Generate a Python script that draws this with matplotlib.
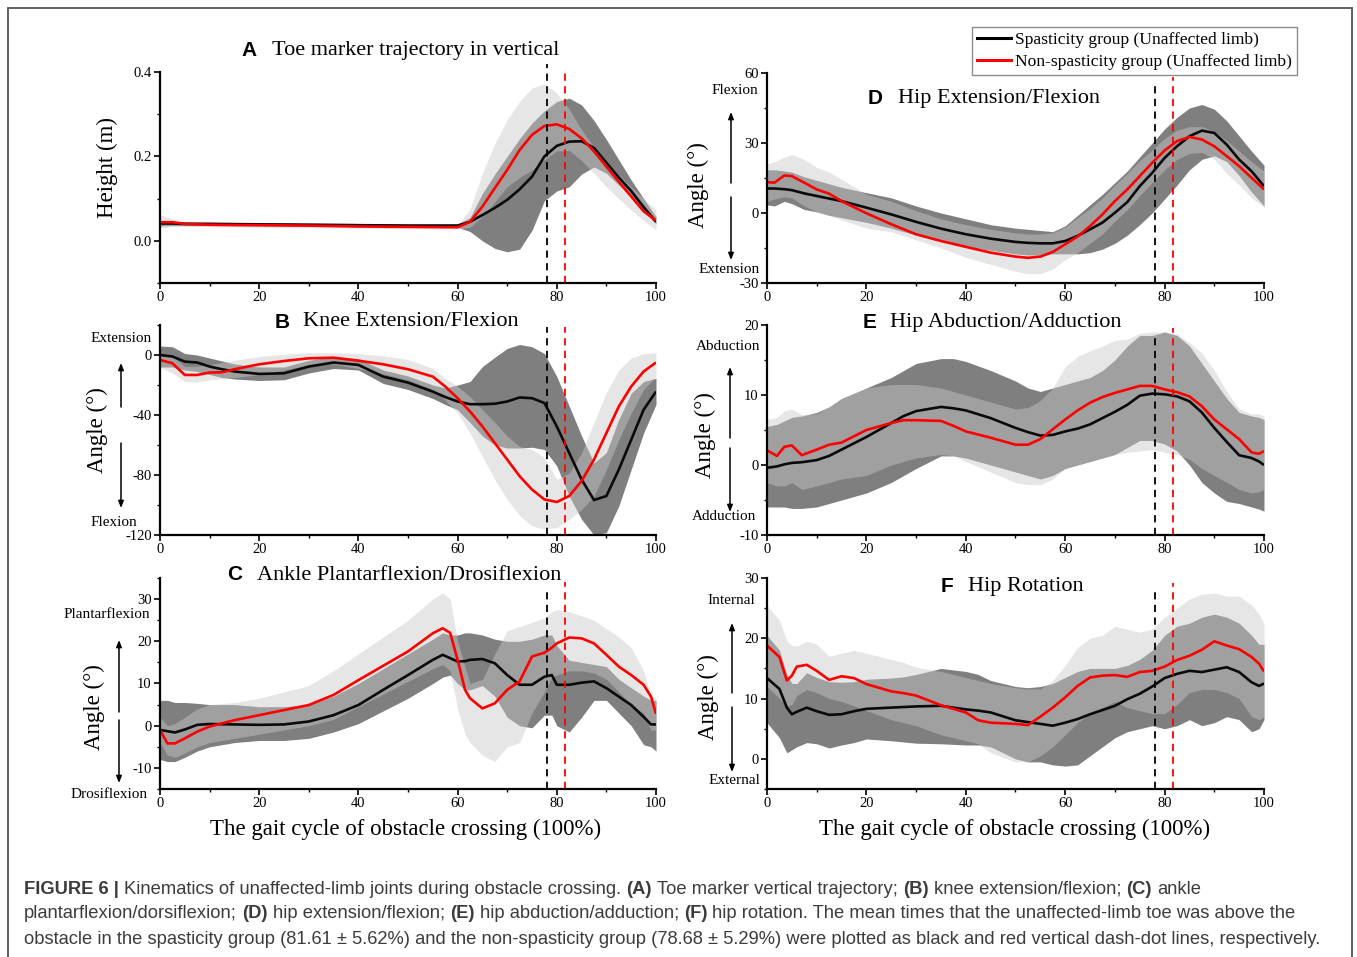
import numpy as np
import matplotlib
matplotlib.use('Agg')
import matplotlib.pyplot as plt
from matplotlib.lines import Line2D
from matplotlib.patches import Rectangle
from matplotlib.ticker import MultipleLocator, FormatStrFormatter

plt.rcParams['font.family'] = ['Liberation Serif', 'DejaVu Serif']
plt.rcParams['axes.unicode_minus'] = False

W, H = 1357, 957

# ---------------- data ----------------
# A  toe marker height (m)
a_pct = [0, 2.5, 5, 10, 20, 30, 40, 50, 60, 62.5, 65, 67.5, 70, 72.5, 75, 77.5,
         80, 82.5, 85, 87.5, 90, 92.5, 95, 97.5, 100]
a_sp_mean = [0.041, 0.041, 0.040, 0.040, 0.039, 0.038, 0.037, 0.036, 0.036, 0.045, 0.061, 0.078,
             0.097, 0.122, 0.152, 0.200, 0.225, 0.235, 0.236, 0.220, 0.185, 0.150, 0.118, 0.080, 0.045]
a_sp_lo = [0.035, 0.036, 0.036, 0.036, 0.035, 0.034, 0.033, 0.032, 0.032, 0.022, 0.000, -0.018,
           -0.026, -0.020, 0.025, 0.095, 0.118, 0.128, 0.158, 0.175, 0.160, 0.132, 0.105, 0.070, 0.040]
a_sp_hi = [0.047, 0.046, 0.045, 0.044, 0.043, 0.042, 0.041, 0.040, 0.040, 0.055, 0.112, 0.158,
           0.200, 0.242, 0.279, 0.308, 0.330, 0.338, 0.322, 0.285, 0.240, 0.192, 0.144, 0.100, 0.057]
a_ns_mean = [0.044, 0.044, 0.040, 0.038, 0.037, 0.036, 0.034, 0.033, 0.032, 0.045, 0.081, 0.125,
             0.168, 0.215, 0.251, 0.272, 0.276, 0.265, 0.243, 0.212, 0.176, 0.140, 0.105, 0.070, 0.048]
a_ns_lo = [0.030, 0.034, 0.034, 0.033, 0.032, 0.031, 0.030, 0.029, 0.028, 0.032, 0.057, 0.092,
           0.128, 0.150, 0.168, 0.192, 0.213, 0.214, 0.190, 0.160, 0.128, 0.100, 0.073, 0.048, 0.025]
a_ns_hi = [0.062, 0.052, 0.045, 0.043, 0.042, 0.041, 0.040, 0.038, 0.037, 0.075, 0.160, 0.230,
           0.287, 0.330, 0.362, 0.372, 0.350, 0.312, 0.263, 0.222, 0.184, 0.156, 0.128, 0.100, 0.073]

# B  knee extension/flexion (deg)
b_pct = [0, 2.5, 5, 7.5, 10, 12.5, 15, 20, 25, 30, 35, 40, 45, 50, 55, 57.5, 60, 62.5, 65,
         67.5, 70, 72.5, 75, 77.5, 80, 82.5, 85, 87.5, 90, 92.5, 95, 97.5, 100]
b_sp_mean = [0, -1, -4.4, -5, -7.7, -9.5, -11, -12.6, -12.2, -7.7, -5, -6.6, -14.4, -18.4, -24.4,
             -28, -31, -32.8, -32.8, -32.5, -31, -28.3, -28.8, -32, -47.6, -65.3, -83, -96.7, -94,
             -76.4, -56.5, -36.5, -24.4]
b_sp_lo = [-8, -8, -10, -11, -13, -15, -16, -17, -16.5, -12, -9, -10, -19, -23, -29, -33, -36.5,
           -45, -54, -60, -62, -62, -61.5, -63, -74, -94, -109.6, -120, -118.4, -100.7, -76.4, -52, -33]
b_sp_hi = [6, 5.5, 1, 0, -2, -4, -6, -8, -8, -3.5, -1, -2.5, -10, -14, -20, -22, -20, -17.7, -7.7,
           -1.5, 4.4, 7, 5.5, 1, -14.4, -34, -54, -72, -65, -43, -25.5, -17.7, -15.5]
b_ns_mean = [-3.3, -5.5, -13.3, -13.3, -11.7, -11.5, -9.5, -6.2, -4, -2.2, -1.8, -3.8, -6.2, -9.5,
             -14.4, -21, -28.8, -37.6, -47.6, -58.7, -69.7, -80.8, -89.7, -96.3, -98, -94, -84,
             -69.7, -52, -34.3, -21, -11, -5]
b_ns_lo = [-8, -12, -17.7, -18, -16.6, -16, -15, -13, -10, -6.6, -6, -9, -12.5, -16.6, -23, -30,
           -38.7, -52, -67.5, -83, -96.3, -107, -114, -116, -115, -109.6, -103, -94, -76.4, -56.5,
           -38.7, -23, -14.4]
b_ns_hi = [1, -1, -7.7, -7.5, -6.6, -5, -3.5, -1, 0.5, 1.5, 1.5, 1, -0.5, -3, -9, -15.5, -21,
           -27.7, -36.5, -45, -54, -61, -63, -68.6, -83, -78.6, -65.3, -45, -25, -10, -2, 1, 1.5]

# C  ankle plantarflexion/dorsiflexion (deg)
c_pct = [0, 1.5, 3, 5, 7.5, 10, 15, 20, 25, 30, 35, 40, 45, 50, 55, 57, 58.5, 60, 61.5, 62.5,
         65, 67.5, 70, 72.5, 75, 77.5, 79, 80, 82.5, 85, 87.5, 90, 92.5, 95, 97.5, 99, 100]
c_sp_mean = [-1, -1.3, -1.6, -0.9, 0.2, 0.4, 0.3, 0.2, 0.3, 1, 2.5, 4.9, 8.5, 12, 15.6, 16.8, 16,
             15.2, 15.3, 15.6, 15.8, 14.8, 12, 9.7, 9.7, 11.6, 12, 9.7, 9.7, 10.2, 10.5, 8.9, 6.9,
             4.9, 2.1, 0.3, 0.3]
c_sp_lo = [-8, -8.5, -8.5, -7.5, -6, -5, -4, -3.5, -3.5, -3, -1.5, 0.5, 3.5, 6.5, 10, 11.5, 12,
           10, 8.5, 8.5, 9.5, 7, 2, 0, -0.5, 2.5, 2.5, 0, -1.5, 2, 6, 6, 3, 0, -4.5, -5, -6]
c_sp_hi = [6, 6, 5.5, 5.5, 5.3, 5, 5, 4.5, 4.5, 5, 7, 10, 13.5, 17, 20.5, 22, 21.5, 21.5, 22, 22,
           21.5, 20.5, 20, 20, 20.5, 21.5, 21.5, 19, 15.5, 15, 14.5, 14, 11, 9, 7, 6, 6]
c_ns_mean = [-1, -4.2, -4.2, -3, -1.4, -0.2, 1.3, 2.5, 3.7, 4.9, 7.3, 10.8, 14.2, 17.6, 21.9,
             23.1, 22, 15.6, 8.5, 6.5, 4.1, 5.3, 8.5, 10.5, 16.4, 17.3, 18.5, 19.5, 20.9, 20.7,
             19.5, 16.8, 14, 12, 9.7, 6.9, 2.8]
c_ns_lo = [-4, -7, -7.5, -6.5, -5, -4, -3, -2, -1, 0, 1.5, 4.5, 7.5, 10.5, 13.5, 14.5, 13, 4, -2,
           -4, -7, -8.5, -5, -4, 3, 8, 11.5, 12, 13, 13, 12.5, 11, 8, 5, 3, -1, -1]
c_ns_hi = [2, 0, 0.5, 2, 4, 5, 5.5, 6.5, 8, 9.5, 13, 17, 21, 25, 30, 31.5, 30, 20, 14, 10, 11,
           17, 22.5, 23.5, 24.5, 25.5, 27, 27.5, 27, 26, 25, 23, 21, 18.5, 13, 7, 6.5]

# D  hip extension/flexion (deg)
d_pct = [0, 1.5, 3.5, 5, 7.5, 10, 12.5, 15, 20, 25, 30, 35, 40, 45, 50, 52.5, 55, 57.5, 60,
         62.5, 65, 67.5, 70, 72.5, 75, 77.5, 80, 82.5, 85, 87.5, 90, 92.5, 95, 97.5, 100]
d_sp_mean = [10.5, 10.5, 10.2, 9.8, 8.4, 7.3, 6.2, 5.1, 2.3, -0.6, -3.8, -6.7, -9.1, -11, -12.4,
             -12.8, -13, -13, -12, -9.8, -7, -4.1, 0.1, 4.7, 11.5, 17.2, 23.6, 28.6, 32.9, 35.3,
             34.3, 29.3, 22.9, 17.9, 11.5]
d_sp_lo = [3.5, 3, 5, 4, 1.5, 0.5, -1, -2, -4, -6.5, -9.5, -12, -14.5, -16, -17.5, -18, -18,
           -17.5, -17.5, -17.5, -17, -15.5, -13, -9.5, -5, 0, 6, 12, 18.5, 23, 24.5, 22, 16, 9, 3]
d_sp_hi = [18.5, 18.5, 18, 17.5, 15.5, 14, 12.5, 11, 8.7, 6.5, 3, 0, -2.5, -5, -6.5, -7, -7.5,
           -8, -5.5, -1, 3.5, 8, 13, 18, 24, 30, 36, 41, 45, 46.5, 44.5, 39.5, 33, 26.5, 20.5]
d_ns_mean = [13.2, 13, 16.1, 15.8, 13, 10.1, 8.3, 5.1, -0.1, -4.8, -9.1, -12, -14.5, -17, -18.7,
             -19.2, -18.7, -16.7, -13.4, -10.1, -5.6, -0.6, 5.1, 10.1, 15.8, 21.5, 26.8, 30.8,
             32.6, 31.5, 28.6, 24.4, 20.1, 15.1, 10.1]
d_ns_lo = [5, 6, 7, 6.5, 3, 0.5, -1, -3, -6.5, -8, -11.5, -15, -19, -22, -25, -26, -26, -24, -20,
           -17, -13, -9, -3.5, 1.5, 7.5, 13, 18.5, 23, 25.5, 26, 23, 17, 12, 6.5, 2.5]
d_ns_hi = [21, 22, 24, 25, 23, 19.5, 17.5, 14.5, 8, 5, 1, -2.5, -5, -7, -8.5, -9, -9, -8.5, -6,
           -2, 2, 6.5, 12, 17, 22.5, 27, 32, 35.5, 37, 37, 35, 31, 26.5, 22, 18]

# E  hip abduction/adduction (deg)
e_pct = [0, 2, 3.5, 5, 7, 10, 12.5, 15, 20, 25, 27.5, 30, 35, 37.5, 40, 45, 50, 52.5, 55, 57.5,
         60, 62.5, 65, 67.5, 70, 72.5, 75, 77.5, 80, 82.5, 85, 87.5, 90, 92.5, 95, 97.5, 99, 100]
e_sp_mean = [-0.4, -0.2, 0.1, 0.3, 0.4, 0.7, 1.3, 2.2, 4, 6, 7, 7.7, 8.3, 8.1, 7.8, 6.7, 5.3, 4.7,
             4.2, 4.3, 4.8, 5.2, 5.8, 6.7, 7.6, 8.6, 9.9, 10.2, 10.1, 9.8, 9.1, 7.5, 5.3, 3.3,
             1.4, 1, 0.5, 0]
e_sp_lo = [-6, -6, -6, -6.2, -6.2, -6, -5.5, -5, -4, -2.5, -1.5, -0.5, 1.3, 1.3, 1, 0, -1, -1.5,
           -2, -1.5, -0.5, 0, 0.5, 1, 1.5, 2.5, 3.5, 3.5, 3, 2, 0, -2.5, -4, -5.2, -5.5, -6, -6.3, -6.6]
e_sp_hi = [5.5, 5.8, 6.3, 6.8, 7, 7.5, 8.3, 9.5, 11, 12.5, 13.5, 14.5, 15.2, 15.2, 14.8, 13.5, 12,
           11, 10.5, 11, 11.5, 12, 12.5, 13.5, 15, 17, 18.5, 18.5, 19, 18.5, 17, 14.5, 12, 9.5,
           7.5, 7, 6.8, 6.5]
e_ns_mean = [2.1, 1.3, 2.6, 2.8, 1.4, 2.2, 2.9, 3.2, 5, 6, 6.4, 6.4, 6.3, 5.6, 4.8, 3.9, 2.9, 2.9,
             3.7, 5.1, 6.5, 7.8, 8.9, 9.7, 10.3, 10.8, 11.3, 11.3, 10.8, 10.4, 9.8, 8.4, 6.5, 5.1,
             3.7, 1.8, 1.6, 2]
e_ns_lo = [-2.5, -3, -3, -2.5, -3.5, -3, -2.5, -2, -1.5, 0, 0.5, 1, 1.5, 1.3, 0.5, -1, -2.5, -2.8,
           -2.8, -2, -0.5, 0, 0.5, 1, 1.5, 1.8, 2, 2.2, 1.8, 1.5, 0.8, -0.5, -1.5, -2.5, -3.5, -4,
           -3.8, -3.5]
e_ns_hi = [6.5, 6.8, 7.7, 8, 7.2, 7.3, 8.3, 9.5, 11, 11.5, 11.5, 11.5, 11, 10.5, 10, 9, 8, 8.2,
           9.2, 11, 14, 15.5, 16.3, 17, 17.8, 18, 18.8, 19, 19, 18.7, 17.5, 16, 13.5, 10.5, 8, 7.3,
           7.3, 7]

# F  hip rotation (deg)
f_pct = [0, 2.5, 4, 5, 6, 8, 10, 12.5, 15, 17.5, 20, 25, 27.5, 30, 35, 40, 42.5, 45, 50, 52.5,
         55, 57.5, 60, 62.5, 65, 67.5, 70, 72.5, 75, 77.5, 80, 82.5, 85, 87.5, 90, 92.5, 95, 97.5,
         99, 100]
f_sp_mean = [13.4, 11.6, 8.5, 7.4, 7.8, 8.5, 7.9, 7.3, 7.4, 7.9, 8.3, 8.5, 8.6, 8.7, 8.8, 8.2, 8.0,
             7.7, 6.4, 6.1, 5.8, 5.5, 6, 6.6, 7.4, 8.1, 8.8, 9.9, 10.8, 12, 13.4, 14.1, 14.6, 14.4,
             14.8, 15.2, 14.4, 12.7, 12.1, 12.5]
f_sp_lo = [6, 3.5, 1, 1.5, 2, 2.7, 2.5, 1.8, 2.3, 2.7, 3.3, 3, 2.8, 2.6, 2.5, 2.3, 2.3, 2, 0, -0.5,
           -0.5, -1, -1.2, -1, 0.5, 2, 3.5, 4.5, 5, 5.5, 5, 5.5, 6.5, 5.5, 6, 7, 6.5, 4.5, 5, 6.5]
f_sp_hi = [20.5, 18, 14, 12.5, 12.5, 14.3, 13.5, 12.8, 12.7, 12.8, 13.2, 13.4, 13.6, 14, 15, 14.5,
           14, 13, 12, 11.8, 12, 12.5, 13.5, 14.5, 15, 15, 15, 15.5, 16.5, 18, 20.5, 22, 22.5,
           23.5, 24, 23.5, 22.5, 20.5, 19, 19]
f_ns_mean = [18.8, 16.9, 13, 13.8, 15.3, 15.6, 14.6, 13.1, 13.7, 13.4, 12.4, 11.2, 10.9, 10.5, 8.9,
             7.7, 6.4, 6, 5.8, 5.6, 7, 8.5, 10.2, 12.1, 13.5, 13.8, 13.9, 13.6, 14.4, 14.6, 15.3,
             16.4, 17.1, 18.1, 19.5, 18.8, 18.2, 16.9, 15.8, 14.5]
f_ns_lo = [12, 10, 8.8, 9, 10.5, 11.5, 11, 10, 9.5, 8.8, 8, 6.5, 6, 5.5, 4, 3, 2.5, 1, -0.5, -0.5,
           0.5, 2, 4, 6, 7.5, 8.5, 9.5, 8.5, 8, 7.5, 7.5, 9, 11, 11.5, 11.5, 11, 10, 7, 6.5, 7]
f_ns_hi = [25.5, 23, 19.5, 18.8, 18.7, 19.5, 19, 17, 17.5, 18, 17.5, 16.5, 16, 15.2, 14.5, 13.5,
           13, 12.5, 11.8, 11.6, 11.6, 13, 15.5, 18.5, 20, 20.5, 22, 21.5, 21, 21.5, 23.5, 25, 26.5,
           27.3, 27.5, 27, 27, 25.5, 24, 22.5]

# mean time toe above obstacle (%)
line_black = 78.0
line_red = 81.6

legend_labels = ['Spasticity group (Unaffected limb)', 'Non-spasticity group (Unaffected limb)']

# ---------------- drawing ----------------
def fx(px):
    return px / W


def fy(py):
    return 1 - py / H


fig = plt.figure(figsize=(W / 100, H / 100), dpi=100)

DARK = '#7f7f7f'
LIGHT = (200 / 255, 200 / 255, 200 / 255)


def panel(box, pct, sp, ns, ylim, ymaj, yfmt, vtops):
    left, top, right, bottom = box
    ax = fig.add_axes([fx(left), fy(bottom), (right - left) / W, (bottom - top) / H])
    ax.fill_between(pct, sp[1], sp[2], color=DARK, lw=0)
    ax.plot(pct, sp[0], color='#0a0a0a', lw=1.9, solid_capstyle='butt')
    ax.fill_between(pct, ns[1], ns[2], color=LIGHT, alpha=0.453, lw=0)
    ax.plot(pct, ns[0], color='#ff0000', lw=1.9, solid_capstyle='butt')
    ax.plot([line_black, line_black], [ylim[0], vtops[0]], color='black', lw=1.3,
            ls=(0, (4, 3)), clip_on=False)
    ax.plot([line_red, line_red], [ylim[0], vtops[1]], color='#ff0000', lw=1.3,
            ls=(0, (4, 3)), clip_on=False)
    ax.set_xlim(0, 100)
    ax.set_ylim(*ylim)
    for s in ['top', 'right']:
        ax.spines[s].set_visible(False)
    for s in ['left', 'bottom']:
        ax.spines[s].set_linewidth(1.6)
    ax.xaxis.set_major_locator(MultipleLocator(20))
    ax.xaxis.set_minor_locator(MultipleLocator(10))
    ax.yaxis.set_major_locator(MultipleLocator(ymaj))
    ax.yaxis.set_minor_locator(MultipleLocator(ymaj / 2))
    ax.yaxis.set_major_formatter(FormatStrFormatter(yfmt))
    ax.tick_params(which='major', direction='out', length=4, width=1.2, labelsize=10.5, pad=2)
    ax.tick_params(which='minor', direction='out', length=2.3, width=1.0)
    return ax


ax_a = panel((160, 72, 656, 283), a_pct, (a_sp_mean, a_sp_lo, a_sp_hi),
             (a_ns_mean, a_ns_lo, a_ns_hi), (-0.1, 0.4), 0.2, '%.1f', (0.42, 0.40))
ax_b = panel((160, 325, 656, 535), b_pct, (b_sp_mean, b_sp_lo, b_sp_hi),
             (b_ns_mean, b_ns_lo, b_ns_hi), (-120, 20), 40, '%d', (19, 19))
ax_c = panel((160, 578, 656, 789), c_pct, (c_sp_mean, c_sp_lo, c_sp_hi),
             (c_ns_mean, c_ns_lo, c_ns_hi), (-15, 35), 10, '%d', (31.8, 34))
ax_d = panel((767, 73, 1264, 283), d_pct, (d_sp_mean, d_sp_lo, d_sp_hi),
             (d_ns_mean, d_ns_lo, d_ns_hi), (-30, 60), 30, '%d', (54.3, 58.3))
ax_e = panel((767, 325, 1264, 535), e_pct, (e_sp_mean, e_sp_lo, e_sp_hi),
             (e_ns_mean, e_ns_lo, e_ns_hi), (-10, 20), 10, '%d', (18.1, 19.6))
ax_f = panel((767, 578, 1264, 789), f_pct, (f_sp_mean, f_sp_lo, f_sp_hi),
             (f_ns_mean, f_ns_lo, f_ns_hi), (-5, 30), 10, '%d', (28, 29.2))
ax_a.yaxis.set_minor_locator(MultipleLocator(0.1))
ax_b.yaxis.set_minor_locator(MultipleLocator(20))
ax_c.yaxis.set_minor_locator(MultipleLocator(5))
ax_d.yaxis.set_minor_locator(MultipleLocator(15))
ax_e.yaxis.set_minor_locator(MultipleLocator(5))
ax_f.yaxis.set_minor_locator(MultipleLocator(5))

# panel titles
titles = [('A', 249, 50, 'Toe marker trajectory in vertical', 272),
          ('B', 282, 322, 'Knee Extension/Flexion', 303),
          ('C', 235, 575, 'Ankle Plantarflexion/Drosiflexion', 257),
          ('D', 875, 99, 'Hip Extension/Flexion', 898),
          ('E', 870, 322, 'Hip Abduction/Adduction', 890),
          ('F', 947, 587, 'Hip Rotation', 968)]
for letter, lx, ly, txt, tx in titles:
    fig.text(fx(lx), fy(ly), letter, family='Liberation Sans', weight='bold', fontsize=15,
             ha='center', va='center')
    fig.text(fx(tx), fy(ly), txt, fontsize=16, ha='left', va='center')

# y labels
ylabels = [('Height (m)', 107, 167), ('Angle (°)', 97, 430), ('Angle (°)', 94, 707),
           ('Angle (°)', 698, 185), ('Angle (°)', 705, 435), ('Angle (°)', 708, 697)]
for txt, x, y in ylabels:
    fig.text(fx(x), fy(y), txt, fontsize=16.5, rotation=90, ha='center', va='center')

# x labels
fig.text(fx(406), fy(829), 'The gait cycle of obstacle crossing (100%)', fontsize=16.5,
         ha='center', va='center')
fig.text(fx(1015), fy(829), 'The gait cycle of obstacle crossing (100%)', fontsize=16.5,
         ha='center', va='center')

# direction labels with arrows: (top text, x, y, bottom text, x, y, arrow x, up head, up tail, down tail, down head)
directions = [('Extension', 121, 339, 'Flexion', 114, 523, 121, 363, 407, 443, 508),
              ('Plantarflexion', 107, 614, 'Drosiflexion', 109, 794, 119, 640, 712, 720, 783),
              ('Flexion', 735, 91, 'Extension', 729, 270, 731, 112, 183, 197, 260),
              ('Abduction', 728, 347, 'Adduction', 724, 517, 730, 367, 438, 448, 512),
              ('Internal', 731, 600, 'External', 734, 781, 732, 623, 693, 707, 772)]
for t1, x1, y1, t2, x2, y2, ax_x, uh, ut, dt, dh in directions:
    fig.text(fx(x1), fy(y1), t1, fontsize=11, ha='center', va='center')
    fig.text(fx(x2), fy(y2), t2, fontsize=11, ha='center', va='center')
    for tail, head in [(ut, uh), (dt, dh)]:
        fig.add_artist(matplotlib.patches.FancyArrowPatch(
            (fx(ax_x), fy(tail)), (fx(ax_x), fy(head)), transform=fig.transFigure,
            arrowstyle='-|>,head_length=4,head_width=1.6', color='black', lw=1.1,
            shrinkA=0, shrinkB=0, mutation_scale=1))

# legend
handles = [Line2D([], [], color='black', lw=2.2), Line2D([], [], color='#ff0000', lw=2.2)]
leg = fig.legend(handles, legend_labels, loc='upper right', bbox_to_anchor=(fx(1297), fy(27)),
                 frameon=True, fancybox=False, edgecolor='#8c8c8c', framealpha=1,
                 prop={'family': 'Liberation Serif', 'size': 12.6}, handlelength=1.9,
                 handletextpad=0.25, borderpad=0.3, labelspacing=0.3, borderaxespad=0)
leg.get_frame().set_linewidth(1.0)

# outer frame
fig.add_artist(Rectangle((fx(8), -0.05), fx(1352) - fx(8), fy(8) + 0.05,
                         transform=fig.transFigure, fill=False, edgecolor='#555555',
                         lw=1.3, clip_on=False))

# caption
cap_color = '#3c3c3c'
cap_size = 13.2
renderer = fig.canvas.get_renderer()


def text_width(s, bold):
    t = fig.text(0, 0, s, fontsize=cap_size, family='Liberation Sans',
                 weight='bold' if bold else 'normal')
    w = t.get_window_extent(renderer).width
    t.remove()
    return w


space_w = text_width('x x', False) - text_width('xx', False)

caption_lines = [
    [('FIGURE 6 |', True), ('Kinematics of unaffected-limb joints during obstacle crossing.', False),
     ('(A)', True), ('Toe marker vertical trajectory;', False), ('(B)', True),
     ('knee extension/flexion;', False), ('(C)', True), ('ankle', False)],
    [('plantarflexion/dorsiflexion;', False), ('(D)', True), ('hip extension/flexion;', False),
     ('(E)', True), ('hip abduction/adduction;', False), ('(F)', True),
     ('hip rotation. The mean times that the unaffected-limb toe was above the', False)],
    [('obstacle in the spasticity group (81.61 ± 5.62%) and the non-spasticity group '
      '(78.68 ± 5.29%) were plotted as black and red vertical dash-dot lines, respectively.', False)],
]
for row, parts in zip([889, 914, 940], caption_lines):
    x = 24
    for s, bold in parts:
        t = fig.text(fx(x), fy(row), s, fontsize=cap_size, family='Liberation Sans',
                     weight='bold' if bold else 'normal', color=cap_color, ha='left', va='center')
        x += t.get_window_extent(renderer).width + space_w

fig.savefig('out.png', dpi=100)
